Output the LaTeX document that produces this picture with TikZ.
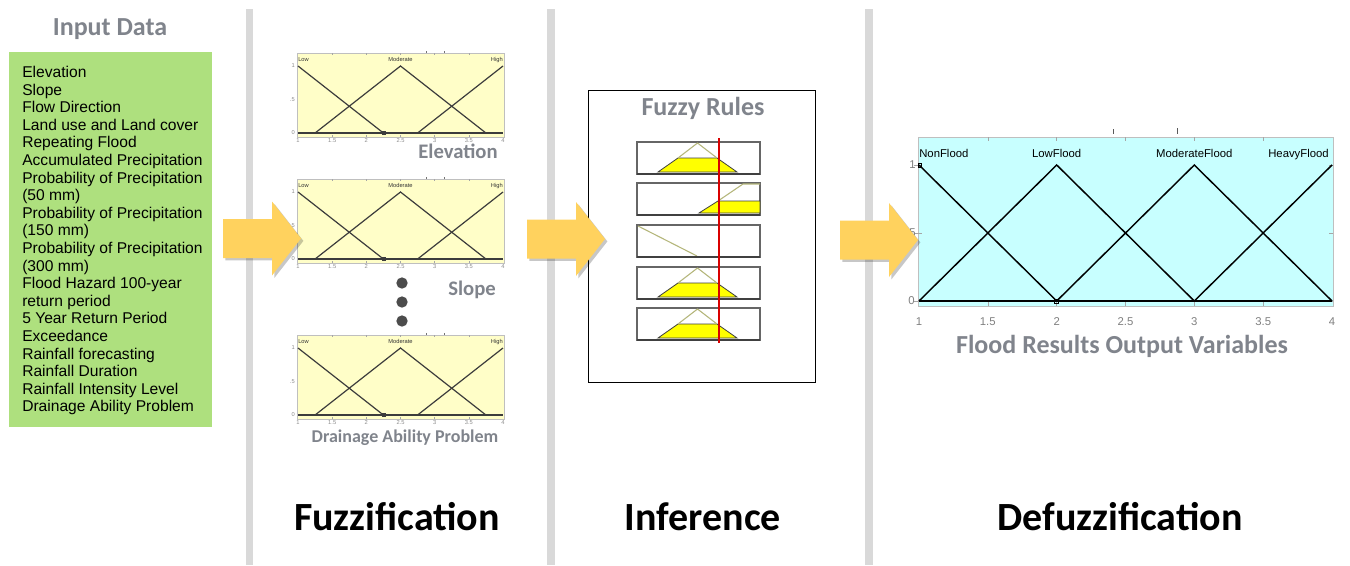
\documentclass[tikz,border=0pt]{standalone}
\usepackage{fontspec}
\setmainfont{Liberation Sans}
\newfontfamily\calibri{Carlito}
\usetikzlibrary{shadows}

\definecolor{sepgray}{HTML}{D9D9D9}
\definecolor{inputgreen}{HTML}{AEE07E}
\definecolor{titlegray}{HTML}{80848C}
\definecolor{plotyellow}{HTML}{FFFEC8}
\definecolor{plotcyan}{HTML}{C8FFFF}
\definecolor{arrowyellow}{HTML}{FFD25E}
\definecolor{mfolive}{HTML}{B4B67A}
\definecolor{ruleyellow}{HTML}{FFFF00}
\definecolor{mfdark}{HTML}{3C3C3C}

\tikzset{
  separator/.style={fill=sepgray, draw=none},
  sectiontitle/.style={font=\calibri\bfseries\fontsize{19.5}{23}\selectfont, text=titlegray, inner sep=0pt},
  varlabel/.style={font=\calibri\bfseries\fontsize{15.5}{18}\selectfont, text=titlegray, inner sep=0pt},
  stagelabel/.style={font=\calibri\bfseries\fontsize{30}{36}\selectfont, text=black, inner sep=0pt},
  plotframe/.style={draw=black!25, line width=0.4pt},
  mfline/.style={draw=mfdark, line width=0.9pt},
  tinylbl/.style={font=\fontsize{4.3}{5}\selectfont, text=black!80, inner sep=0pt},
  tinytick/.style={font=\fontsize{4.3}{5}\selectfont, text=black!45, inner sep=0pt},
  outlbl/.style={font=\fontsize{8.5}{10}\selectfont, text=black, inner sep=0pt},
  outtick/.style={font=\fontsize{8.5}{10}\selectfont, text=black!50, inner sep=0pt},
  gridtick/.style={draw=black!35, line width=0.4pt},
  rulebox/.style={draw=black!60, line width=1.1pt, fill=white},
  rulebase/.style={draw=black!75, line width=1.8pt},
  ruleshape/.style={draw=mfolive, line width=0.8pt},
  rulefill/.style={fill=ruleyellow, draw=black!75, line width=0.6pt},
  bigarrow/.pic={
    \path[fill=arrowyellow,
          drop shadow={shadow xshift=1.8pt, shadow yshift=-1.8pt, opacity=0.22, fill=black}]
      (0,-19.5) -- (49,-19.5) -- (49,-37) -- (78,0) -- (49,37) -- (49,19.5) -- (0,19.5) -- cycle;
  }
}

% one fuzzification membership plot: #1 name prefix, #2 y of the membership-1 level
\newcommand\fuzzplot[2]{%
\begin{scope}[shift={(298,#2)}]
  \fill[plotyellow] (-1,-13) rectangle (206,71);
  \draw[plotframe] (-1,-13) rectangle (206,71);
  \foreach \xx in {34.2,68.3,102.5,136.7,170.8}{
    \draw[gridtick] (\xx,-13) -- (\xx,-11);
    \draw[gridtick] (\xx,71) -- (\xx,69);
  }
  \draw[draw=black!55, line width=0.5pt] (128,-15) -- (128,-13.5) (146,-15) -- (146,-13.5);
  \draw[mfline] (0,67) -- (205,67);
  \draw[mfline] (0,0) -- (85.4,67);
  \draw[mfline] (17.1,67) -- (102.5,0) -- (187.9,67);
  \draw[mfline] (119.6,67) -- (205,0);
  \draw[draw=mfdark, line width=0.4pt] (84,65.5) rectangle (87,68.5);
  \node[tinylbl, anchor=base west] (#1-low) at (0,-5) {Low};
  \node[tinylbl, anchor=base] (#1-mod) at (102.5,-5) {Moderate};
  \node[tinylbl, anchor=base east] (#1-high) at (205,-5) {High};
  \node[tinytick, anchor=east] (#1-y1) at (-3,0) {1};
  \node[tinytick, anchor=east] (#1-y5) at (-3,33.5) {.5};
  \node[tinytick, anchor=east] (#1-y0) at (-3,67) {0};
  \foreach \xx/\ll [count=\i] in {0/1,34.2/1.5,68.3/2,102.5/2.5,136.7/3,170.8/3.5,205/4}{
    \node[tinytick, anchor=base] (#1-t\i) at (\xx,76) {\ll};
  }
\end{scope}}

% one rule row with a clipped triangle: #1 name, #2 top of the row
\newcommand\rulerow[2]{%
  \path[rulebox] (637,#2) rectangle (760,#2+32);
  \coordinate (#1) at (637,#2);
  \fill[rulefill] (658,#2+30) -- (678,#2+16) -- (717,#2+16) -- (737,#2+30) -- cycle;
  \draw[ruleshape] (678,#2+16) -- (697.5,#2+1) -- (717,#2+16);
  \draw[rulebase] (637,#2+32) -- (760,#2+32);}

\begin{document}
\begin{tikzpicture}[x=0.75pt, y=-0.75pt]
  \useasboundingbox (0,0) rectangle (1350,565);
  \fill[white] (0,0) rectangle (1350,565);

  % stage separators
  \fill[separator] (246,9) rectangle (253,565);
  \fill[separator] (547,9) rectangle (555,565);
  \fill[separator] (865,9) rectangle (873,565);

  % input data
  \node[sectiontitle] (inputtitle) at (110,29) {Input Data};
  \node[fill=inputgreen, draw=none, minimum width=203*0.75pt, minimum height=375*0.75pt,
        anchor=north west, inner sep=0pt] (inputbox) at (9,52) {};
  \node[anchor=north west, align=left, inner sep=0pt,
        font=\fontsize{11.7}{13.2}\selectfont] (inputlist) at (22,66)
    {Elevation\\Slope\\Flow Direction\\Land use and Land cover\\Repeating Flood\\
     Accumulated Precipitation\\Probability of Precipitation\\(50 mm)\\
     Probability of Precipitation\\(150 mm)\\Probability of Precipitation\\(300 mm)\\
     Flood Hazard 100-year\\return period\\5 Year Return Period\\Exceedance\\
     Rainfall forecasting\\Rainfall Duration\\Rainfall Intensity Level\\
     Drainage Ability Problem};

  % fuzzification
  \fuzzplot{elev}{66}
  \fuzzplot{slope}{192}
  \fuzzplot{drain}{348}
  \node[varlabel] (elevlabel) at (458,151) {Elevation};
  \node[varlabel] (slopelabel) at (472,290) {Slope};
  \node[varlabel, font=\calibri\bfseries\fontsize{13.5}{16}\selectfont] (drainlabel) at (405,438) {Drainage Ability Problem};
  \foreach \yy [count=\i] in {283,302,321}{
    \node[circle, fill=black!70, inner sep=0pt, minimum size=8.5pt] (dot\i) at (402,\yy) {};
  }
  \node[stagelabel] (fuzzification) at (397,517) {Fuzzification};

  % inference
  \node[draw=black, line width=1.1pt, minimum width=227*0.75pt, minimum height=292*0.75pt,
        anchor=north west, inner sep=0pt] (rulesframe) at (588,90) {};
  \node[sectiontitle] (rulestitle) at (703,108) {Fuzzy Rules};
  \rulerow{ruleA}{142}
  % rising rule
  \path[rulebox] (637,183) rectangle (760,215);
  \coordinate (ruleB) at (637,183);
  \fill[rulefill] (699,213) -- (718,201) -- (760,201) -- (760,213) -- cycle;
  \draw[ruleshape] (718,201) -- (743,184) -- (760,184);
  \draw[rulebase] (637,215) -- (760,215);
  % falling rule
  \path[rulebox] (637,225) rectangle (760,257);
  \coordinate (ruleC) at (637,225);
  \draw[ruleshape] (638,226) -- (697,256);
  \draw[rulebase] (637,257) -- (760,257);
  \rulerow{ruleD}{267}
  \rulerow{ruleE}{308}
  \draw[red!85!black, line width=0.9pt] (719,138) -- (719,343);
  \node[stagelabel] (inference) at (703,517) {Inference};

  % defuzzification
  \begin{scope}[shift={(919,165)}]
    \fill[plotcyan] (-1,-28) rectangle (414,141);
    \draw[plotframe] (-1,-28) rectangle (414,141);
    \foreach \xx in {68.8,137.7,206.5,275.3,344.2}{
      \draw[gridtick] (\xx,-28) -- (\xx,-24);
      \draw[gridtick] (\xx,141) -- (\xx,137);
    }
    \foreach \yy in {0,68,136}{
      \draw[gridtick] (-1,\yy) -- (3,\yy);
      \draw[gridtick] (414,\yy) -- (410,\yy);
      \draw[gridtick] (-1,\yy) -- (-5,\yy);
    }
    \draw[draw=black!65, line width=0.5pt] (194,-36) -- (194,-31) (258,-37) -- (258,-31);
    \draw[black, line width=1.1pt] (0,136) -- (413,136);
    \draw[black, line width=1.1pt] (0,0) -- (137.7,136);
    \draw[black, line width=1.1pt] (0,136) -- (137.7,0) -- (275.3,136);
    \draw[black, line width=1.1pt] (137.7,136) -- (275.3,0) -- (413,136);
    \draw[black, line width=1.1pt] (275.3,136) -- (413,0);
    \draw[black, line width=0.5pt] (135.7,134) rectangle (139.7,138);
    \draw[black, line width=0.5pt] (-1,-2) rectangle (2,2);
    \node[outlbl, anchor=base west] (nonflood) at (0,-8) {NonFlood};
    \node[outlbl, anchor=base] (lowflood) at (137.7,-8) {LowFlood};
    \node[outlbl, anchor=base] (modflood) at (275.3,-8) {ModerateFlood};
    \node[outlbl, anchor=base east] (heavyflood) at (410,-8) {HeavyFlood};
    \node[outtick, anchor=east] (out-y1) at (-3,0) {1};
    \node[outtick, anchor=east] (out-y5) at (-3,68) {.5};
    \node[outtick, anchor=east] (out-y0) at (-4,136) {0};
    \foreach \xx/\ll [count=\i] in {0/1,68.8/1.5,137.7/2,206.5/2.5,275.3/3,344.2/3.5,413/4}{
      \node[outtick, anchor=base] (out-t\i) at (\xx,160) {\ll};
    }
  \end{scope}
  \node[sectiontitle] (outtitle) at (1122,346) {Flood Results Output Variables};
  \node[stagelabel] (defuzzification) at (1120,517) {Defuzzification};

  % stage arrows
  \pic (arrowone) at (223,238.5) {bigarrow};
  \pic (arrowtwo) at (527,239) {bigarrow};
  \pic (arrowthree) at (840,240) {bigarrow};
\end{tikzpicture}
\end{document}
